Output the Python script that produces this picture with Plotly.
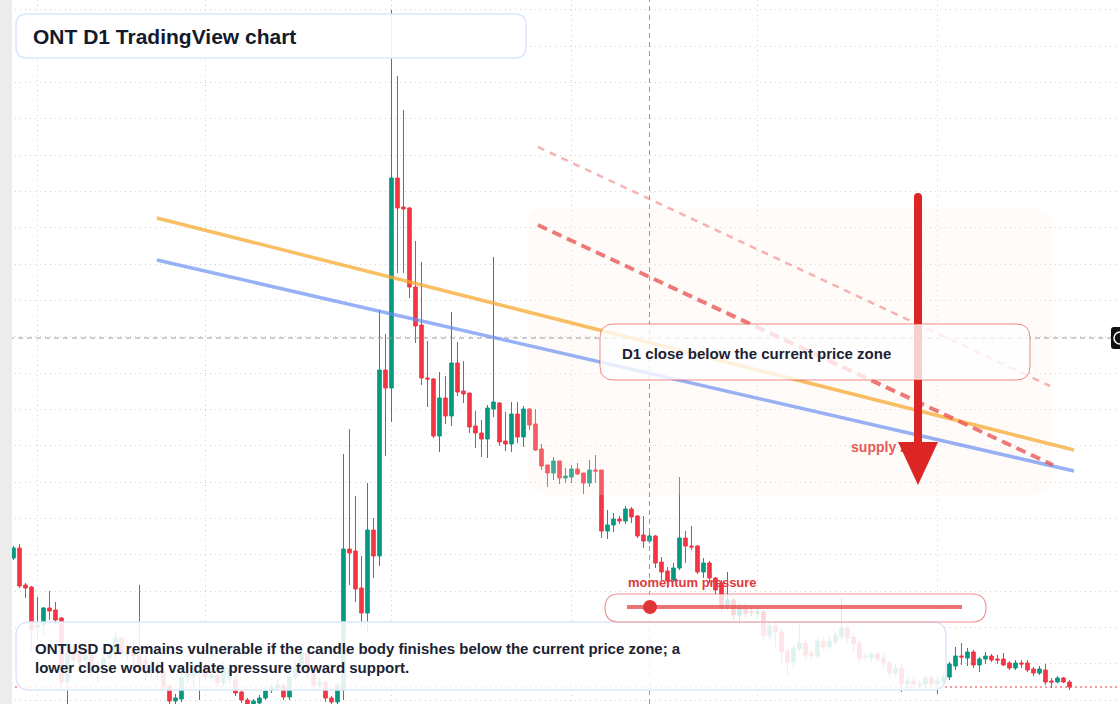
import pandas as pd
import plotly.graph_objects as go

# ---------------- data (ONTUSD, daily) ----------------
START_DATE = "2025-01-28"

OPEN = [0.442, 0.452, 0.415, 0.413, 0.373, 0.375, 0.392, 0.390, 0.382, 0.318,
        0.350, 0.350, 0.340, 0.345, 0.328, 0.333, 0.342, 0.348, 0.362, 0.345,
        0.348, 0.345, 0.340, 0.328, 0.335, 0.328, 0.314, 0.299, 0.301, 0.323,
        0.324, 0.327, 0.333, 0.322, 0.325, 0.317, 0.321, 0.320, 0.308, 0.300,
        0.296, 0.297, 0.302, 0.310, 0.312, 0.315, 0.303, 0.323, 0.333, 0.347,
        0.327, 0.315, 0.318, 0.302, 0.298, 0.310, 0.451, 0.449, 0.412, 0.387,
        0.470, 0.444, 0.630, 0.612, 0.822, 0.793, 0.792, 0.713, 0.675, 0.622,
        0.621, 0.564, 0.602, 0.584, 0.637, 0.609, 0.607, 0.574, 0.567, 0.561,
        0.591, 0.597, 0.559, 0.556, 0.586, 0.563, 0.591, 0.576, 0.551, 0.535,
        0.527, 0.539, 0.522, 0.523, 0.531, 0.527, 0.517, 0.530, 0.530, 0.469,
        0.475, 0.481, 0.479, 0.491, 0.484, 0.465, 0.459, 0.464, 0.438, 0.429,
        0.420, 0.432, 0.462, 0.454, 0.454, 0.428, 0.437, 0.422, 0.417, 0.393,
        0.400, 0.385, 0.392, 0.389, 0.387, 0.388, 0.364, 0.374, 0.368, 0.349,
        0.338, 0.351, 0.357, 0.347, 0.344, 0.359, 0.353, 0.358, 0.363, 0.372,
        0.363, 0.357, 0.343, 0.342, 0.346, 0.342, 0.337, 0.327, 0.332, 0.316,
        0.319, 0.315, 0.316, 0.322, 0.316, 0.318, 0.323, 0.334, 0.344, 0.342,
        0.348, 0.335, 0.341, 0.344, 0.341, 0.341, 0.337, 0.332, 0.337, 0.337,
        0.331, 0.327, 0.330, 0.319, 0.318, 0.322, 0.318]

HIGH = [0.454, 0.456, 0.417, 0.414, 0.403, 0.393, 0.409, 0.398, 0.383, 0.360,
        0.355, 0.358, 0.350, 0.348, 0.340, 0.345, 0.352, 0.368, 0.364, 0.354,
        0.360, 0.415, 0.345, 0.340, 0.338, 0.332, 0.316, 0.306, 0.328, 0.332,
        0.336, 0.335, 0.338, 0.330, 0.328, 0.338, 0.335, 0.324, 0.310, 0.302,
        0.301, 0.305, 0.312, 0.316, 0.320, 0.317, 0.328, 0.338, 0.352, 0.350,
        0.330, 0.322, 0.320, 0.304, 0.317, 0.546, 0.571, 0.504, 0.444, 0.517,
        0.482, 0.690, 0.666, 0.990, 0.924, 0.890, 0.793, 0.759, 0.738, 0.659,
        0.622, 0.628, 0.624, 0.688, 0.658, 0.639, 0.607, 0.589, 0.580, 0.595,
        0.743, 0.598, 0.588, 0.598, 0.598, 0.594, 0.592, 0.591, 0.556, 0.535,
        0.543, 0.539, 0.532, 0.535, 0.537, 0.527, 0.540, 0.545, 0.530, 0.490,
        0.487, 0.484, 0.494, 0.493, 0.485, 0.484, 0.467, 0.465, 0.443, 0.433,
        0.437, 0.523, 0.469, 0.474, 0.455, 0.442, 0.439, 0.423, 0.420, 0.428,
        0.402, 0.397, 0.397, 0.394, 0.392, 0.390, 0.378, 0.378, 0.372, 0.352,
        0.355, 0.378, 0.360, 0.350, 0.364, 0.362, 0.364, 0.368, 0.402, 0.375,
        0.367, 0.360, 0.348, 0.348, 0.348, 0.346, 0.340, 0.336, 0.336, 0.324,
        0.323, 0.320, 0.326, 0.325, 0.324, 0.326, 0.338, 0.353, 0.357, 0.352,
        0.350, 0.343, 0.348, 0.346, 0.345, 0.347, 0.339, 0.340, 0.340, 0.340,
        0.333, 0.334, 0.336, 0.322, 0.324, 0.323, 0.320]

LOW = [0.440, 0.412, 0.402, 0.350, 0.360, 0.365, 0.380, 0.375, 0.310, 0.296,
       0.335, 0.332, 0.335, 0.324, 0.318, 0.328, 0.336, 0.340, 0.342, 0.340,
       0.332, 0.325, 0.320, 0.322, 0.320, 0.310, 0.296, 0.295, 0.298, 0.316,
       0.312, 0.300, 0.320, 0.319, 0.313, 0.314, 0.316, 0.304, 0.297, 0.294,
       0.294, 0.295, 0.300, 0.307, 0.310, 0.300, 0.300, 0.320, 0.330, 0.322,
       0.310, 0.312, 0.298, 0.295, 0.294, 0.300, 0.415, 0.398, 0.373, 0.367,
       0.422, 0.434, 0.544, 0.578, 0.727, 0.727, 0.702, 0.657, 0.615, 0.593,
       0.562, 0.548, 0.576, 0.574, 0.604, 0.597, 0.567, 0.552, 0.543, 0.542,
       0.583, 0.554, 0.549, 0.548, 0.557, 0.553, 0.570, 0.549, 0.530, 0.513,
       0.520, 0.516, 0.517, 0.517, 0.525, 0.506, 0.513, 0.517, 0.462, 0.461,
       0.468, 0.476, 0.476, 0.477, 0.462, 0.452, 0.457, 0.432, 0.420, 0.412,
       0.418, 0.430, 0.437, 0.450, 0.426, 0.422, 0.417, 0.405, 0.388, 0.390,
       0.380, 0.376, 0.382, 0.384, 0.382, 0.360, 0.360, 0.352, 0.335, 0.325,
       0.332, 0.348, 0.340, 0.340, 0.342, 0.350, 0.350, 0.354, 0.360, 0.358,
       0.348, 0.338, 0.338, 0.338, 0.338, 0.332, 0.322, 0.324, 0.308, 0.310,
       0.312, 0.312, 0.312, 0.312, 0.306, 0.314, 0.320, 0.330, 0.335, 0.334,
       0.332, 0.328, 0.336, 0.338, 0.336, 0.334, 0.330, 0.330, 0.332, 0.328,
       0.324, 0.325, 0.315, 0.312, 0.317, 0.317, 0.310]

CLOSE = [0.452, 0.414, 0.412, 0.370, 0.375, 0.392, 0.389, 0.380, 0.318, 0.347,
         0.340, 0.338, 0.345, 0.328, 0.333, 0.342, 0.348, 0.362, 0.347, 0.348,
         0.344, 0.330, 0.328, 0.335, 0.327, 0.313, 0.299, 0.302, 0.323, 0.327,
         0.327, 0.330, 0.323, 0.325, 0.317, 0.332, 0.332, 0.307, 0.300, 0.296,
         0.299, 0.302, 0.309, 0.313, 0.315, 0.303, 0.323, 0.333, 0.347, 0.327,
         0.315, 0.318, 0.302, 0.298, 0.315, 0.451, 0.447, 0.411, 0.387, 0.470,
         0.444, 0.630, 0.612, 0.822, 0.792, 0.791, 0.713, 0.674, 0.622, 0.621,
         0.564, 0.602, 0.584, 0.637, 0.608, 0.606, 0.573, 0.567, 0.561, 0.592,
         0.598, 0.558, 0.556, 0.586, 0.563, 0.591, 0.575, 0.550, 0.534, 0.527,
         0.539, 0.522, 0.524, 0.531, 0.526, 0.517, 0.530, 0.529, 0.469, 0.475,
         0.481, 0.479, 0.491, 0.483, 0.464, 0.459, 0.464, 0.437, 0.428, 0.419,
         0.432, 0.462, 0.454, 0.453, 0.428, 0.437, 0.422, 0.410, 0.392, 0.400,
         0.385, 0.393, 0.387, 0.388, 0.388, 0.364, 0.374, 0.368, 0.348, 0.338,
         0.352, 0.357, 0.345, 0.344, 0.359, 0.353, 0.359, 0.365, 0.372, 0.362,
         0.356, 0.341, 0.344, 0.346, 0.341, 0.337, 0.327, 0.332, 0.316, 0.319,
         0.316, 0.316, 0.322, 0.316, 0.319, 0.323, 0.336, 0.344, 0.343, 0.348,
         0.335, 0.341, 0.344, 0.340, 0.340, 0.335, 0.332, 0.337, 0.336, 0.330,
         0.327, 0.331, 0.318, 0.318, 0.322, 0.318, 0.313]

CURRENT_PRICE = 0.313
CROSSHAIR_PRICE = 0.662
CROSSHAIR_BAR = 106          # bar index under the vertical crosshair

# drawn trend lines: (bar index, price) end points
ORANGE_TREND = [(23.9, 0.782), (176.75, 0.550)]
BLUE_TREND = [(23.9, 0.740), (176.75, 0.529)]
RED_DASH_MAIN = [(87.4, 0.775), (173.25, 0.535)]
RED_DASH_UPPER = [(87.4, 0.853), (172.75, 0.614)]
SUPPLY_LABEL_AT = (139.6, 0.552)

TITLE = "ONT D1 TradingView chart"
NOTE_LINES = ["ONTUSD D1 remains vulnerable if the candle body finishes below the current price zone; a",
              "lower close would validate pressure toward support."]
CALLOUT = "D1 close below the current price zone"
MOMENTUM_LABEL = "momentum pressure"
SUPPLY_LABEL = "supply zone"

# ---------------- helpers ----------------
W, H = 1120, 704
start = pd.Timestamp(START_DATE)
dates = [start + pd.Timedelta(days=i) for i in range(len(OPEN))]


def bar_date(i):
    return start + pd.Timedelta(hours=24 * i)


def px(x):
    return x / W


def py(y):
    return 1 - y / H


def rrect_path(x0, y0, x1, y1, r):
    pts = [("M", [(x0 + r, y0)]), ("L", [(x1 - r, y0)]), ("Q", [(x1, y0), (x1, y0 + r)]),
           ("L", [(x1, y1 - r)]), ("Q", [(x1, y1), (x1 - r, y1)]), ("L", [(x0 + r, y1)]),
           ("Q", [(x0, y1), (x0, y1 - r)]), ("L", [(x0, y0 + r)]), ("Q", [(x0, y0), (x0 + r, y0)])]
    s = ""
    for cmd, ps in pts:
        s += cmd + " " + " ".join(f"{px(a):.5f},{py(b):.5f}" for a, b in ps) + " "
    return s + "Z"


GREEN = "#089981"
RED = "#F23645"
FONT = "Liberation Sans, Arial, sans-serif"
GRID = "#d2d2d2"

fig = go.Figure()
fig.add_trace(go.Candlestick(
    x=dates, open=OPEN, high=HIGH, low=LOW, close=CLOSE,
    increasing=dict(line=dict(color=GREEN, width=1), fillcolor=GREEN),
    decreasing=dict(line=dict(color=RED, width=1), fillcolor=RED),
    whiskerwidth=0, hoverinfo="skip", showlegend=False,
))

fig.add_trace(go.Scatter(
    x=[bar_date(SUPPLY_LABEL_AT[0])], y=[SUPPLY_LABEL_AT[1]], mode="text",
    text=[f"<b>{SUPPLY_LABEL}</b>"], textposition="middle right",
    textfont=dict(family=FONT, size=14, color="#e03131"),
    hoverinfo="skip", showlegend=False,
))

shapes = []
# faint supply zone
shapes.append(dict(type="path", xref="paper", yref="paper", layer="above",
                   path=rrect_path(527, 208, 1052, 495, 22),
                   fillcolor="rgba(255,236,222,0.22)", line=dict(width=0)))
# current price line
shapes.append(dict(type="line", xref="paper", yref="y", x0=0, x1=1,
                   y0=CURRENT_PRICE, y1=CURRENT_PRICE, layer="above",
                   line=dict(color=RED, width=1, dash="2px,3px")))
# crosshair
shapes.append(dict(type="line", xref="paper", yref="y", x0=0, x1=1,
                   y0=CROSSHAIR_PRICE, y1=CROSSHAIR_PRICE, layer="above",
                   line=dict(color="#9a9a9a", width=1, dash="5px,4px")))
shapes.append(dict(type="line", xref="x", yref="paper", x0=bar_date(CROSSHAIR_BAR),
                   x1=bar_date(CROSSHAIR_BAR), y0=0, y1=1, layer="above",
                   line=dict(color="#9a9a9a", width=1, dash="5px,4px")))


def trend(pts, color, width, dash="solid"):
    (i0, p0), (i1, p1) = pts
    return dict(type="line", xref="x", yref="y", x0=bar_date(i0), y0=p0,
                x1=bar_date(i1), y1=p1, layer="above",
                line=dict(color=color, width=width, dash=dash))


shapes.append(trend(ORANGE_TREND, "rgba(247,170,50,0.75)", 3.5))
shapes.append(trend(BLUE_TREND, "rgba(100,140,240,0.68)", 3.5))
shapes.append(trend(RED_DASH_MAIN, "rgba(232,85,85,0.78)", 4, "10px,6px"))
shapes.append(trend(RED_DASH_UPPER, "rgba(240,130,130,0.6)", 2.5, "7px,6px"))

# red arrow
shapes.append(dict(type="line", xref="paper", yref="paper", x0=px(918), x1=px(918),
                   y0=py(197), y1=py(446), layer="above",
                   line=dict(color="#dc2626", width=8)))
shapes.append(dict(type="circle", xref="paper", yref="paper", x0=px(914), x1=px(922),
                   y0=py(193), y1=py(201), layer="above",
                   fillcolor="#dc2626", line=dict(width=0)))
shapes.append(dict(type="path", xref="paper", yref="paper", layer="above",
                   path=f"M {px(898):.5f},{py(442):.5f} L {px(938):.5f},{py(442):.5f} "
                        f"L {px(918):.5f},{py(485):.5f} Z",
                   fillcolor="#dc2626", line=dict(width=0)))

# boxes
shapes.append(dict(type="path", xref="paper", yref="paper", layer="above",
                   path=rrect_path(16, 14, 526, 58, 11),
                   fillcolor="rgba(255,255,255,0.92)", line=dict(color="#dce7fa", width=1.5)))
shapes.append(dict(type="path", xref="paper", yref="paper", layer="above",
                   path=rrect_path(16, 622, 946, 690, 14),
                   fillcolor="rgba(255,255,255,0.88)", line=dict(color="#dce7fa", width=1.5)))
shapes.append(dict(type="path", xref="paper", yref="paper", layer="above",
                   path=rrect_path(600, 324, 1030, 380, 14),
                   fillcolor="rgba(255,255,255,0.78)", line=dict(color="rgba(225,60,60,0.6)", width=1)))
shapes.append(dict(type="path", xref="paper", yref="paper", layer="above",
                   path=rrect_path(605, 594, 986, 622, 14),
                   fillcolor="rgba(255,255,255,0.8)", line=dict(color="rgba(225,60,60,0.55)", width=1.2)))
# momentum gauge
shapes.append(dict(type="line", xref="paper", yref="paper", x0=px(627), x1=px(962),
                   y0=py(607), y1=py(607), layer="above",
                   line=dict(color="rgba(230,80,80,0.8)", width=4)))
shapes.append(dict(type="circle", xref="paper", yref="paper", x0=px(643), x1=px(657),
                   y0=py(600), y1=py(614), layer="above",
                   fillcolor="#e03535", line=dict(width=0)))
# left border strip and right price tag
shapes.append(dict(type="rect", xref="paper", yref="paper", x0=0, x1=px(12), y0=0, y1=1,
                   layer="above", fillcolor="#ececec", line=dict(width=0)))
shapes.append(dict(type="path", xref="paper", yref="paper", layer="above",
                   path=rrect_path(1111, 327, 1126, 349, 3),
                   fillcolor="#111111", line=dict(width=0)))
shapes.append(dict(type="circle", xref="paper", yref="paper", x0=px(1114), x1=px(1126),
                   y0=py(332), y1=py(344), layer="above",
                   fillcolor="rgba(0,0,0,0)", line=dict(color="#ffffff", width=1.5)))

annotations = [
    dict(text=f"<b>{TITLE}</b>", x=px(31), y=py(36), xref="paper", yref="paper",
         xanchor="left", yanchor="middle", showarrow=False,
         font=dict(family=FONT, size=21, color="#131a2b")),
    dict(text=f"<b>{NOTE_LINES[0]}</b>", x=px(33), y=py(648), xref="paper", yref="paper",
         xanchor="left", yanchor="middle", showarrow=False,
         font=dict(family=FONT, size=15, color="#1a2233")),
    dict(text=f"<b>{NOTE_LINES[1]}</b>", x=px(33), y=py(667), xref="paper", yref="paper",
         xanchor="left", yanchor="middle", showarrow=False,
         font=dict(family=FONT, size=15, color="#1a2233")),
    dict(text=f"<b>{CALLOUT}</b>", x=px(620), y=py(353), xref="paper", yref="paper",
         xanchor="left", yanchor="middle", showarrow=False,
         font=dict(family=FONT, size=15, color="#1a2233")),
    dict(text=f"<b>{MOMENTUM_LABEL}</b>", x=px(626), y=py(582), xref="paper", yref="paper",
         xanchor="left", yanchor="middle", showarrow=False,
         font=dict(family=FONT, size=13, color="#e03a3a")),
]

fig.update_layout(
    width=W, height=H, margin=dict(l=0, r=0, t=0, b=0),
    paper_bgcolor="white", plot_bgcolor="white",
    shapes=shapes, annotations=annotations,
    boxgap=0.15, hovermode=False, dragmode=False, showlegend=False,
    xaxis=dict(type="date", range=[bar_date(-2.25), bar_date(184.42)],
               showgrid=True, gridcolor=GRID, griddash="1px,4px", gridwidth=1,
               dtick="M1", tick0="2025-01-01", showticklabels=False, ticks="",
               zeroline=False, showline=False, rangeslider=dict(visible=False), fixedrange=True),
    yaxis=dict(range=[0.296, 1.0], showgrid=True, gridcolor=GRID, griddash="1px,4px",
               gridwidth=1, tick0=0.300, dtick=0.03633, showticklabels=False, ticks="",
               zeroline=False, showline=False, fixedrange=True),
)

fig.write_html("out.html", config={"displayModeBar": False, "staticPlot": True})
